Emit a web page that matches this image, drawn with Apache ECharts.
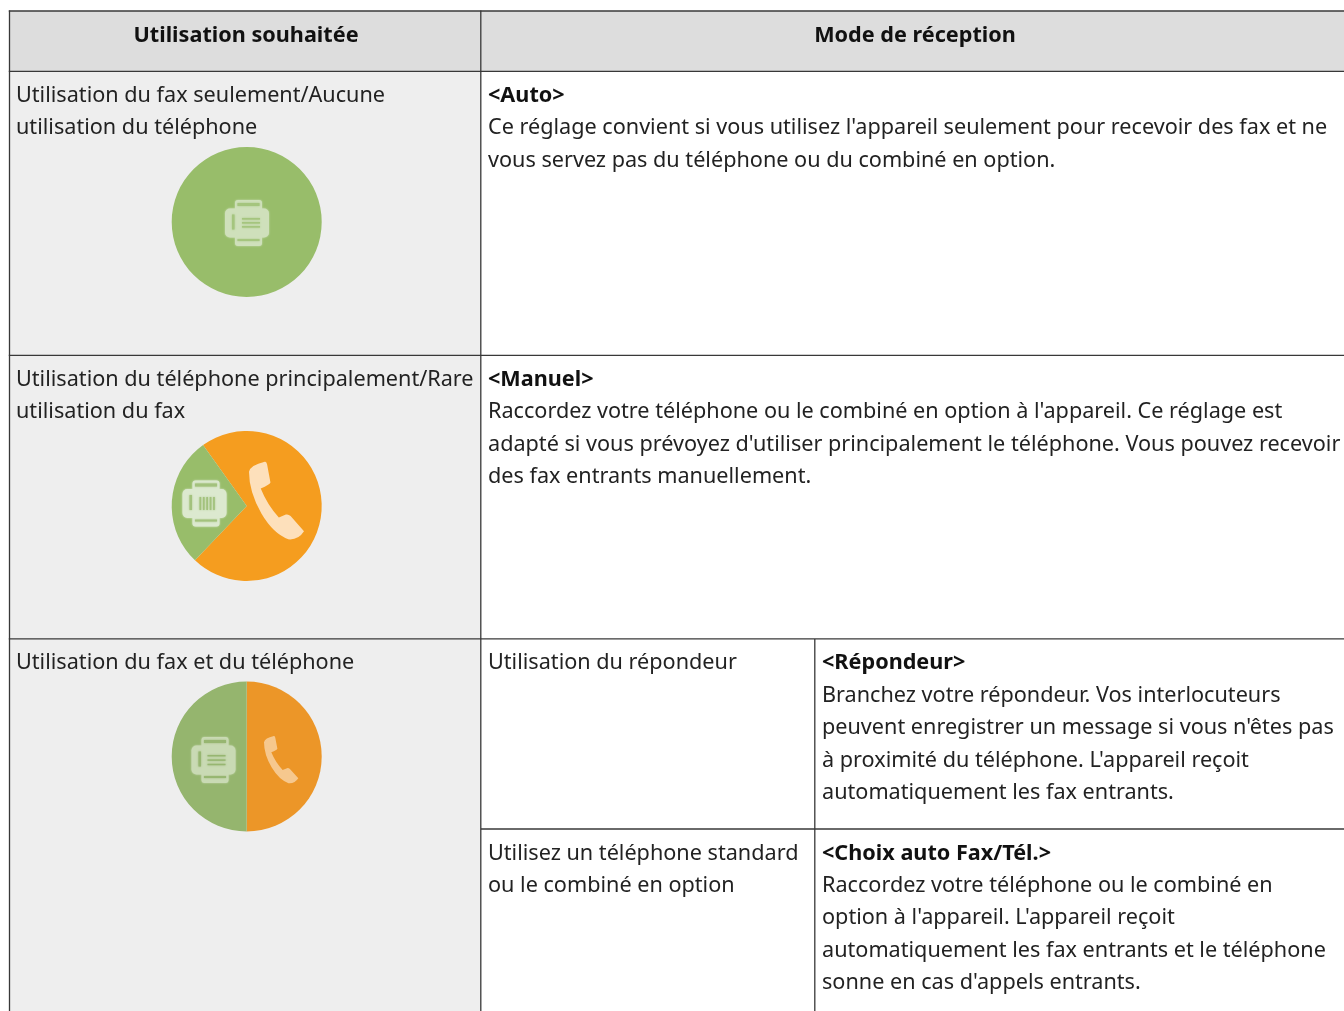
<!DOCTYPE html>
<html><head><meta charset="utf-8">
<style>html,body{margin:0;padding:0;background:#fff}#c{width:1344px;height:1011px}</style>
<script src="https://cdn.jsdelivr.net/npm/echarts@6/dist/echarts.min.js"></script>
</head><body><div id="c"></div>
<script>
const headers = ['Utilisation souhaitée', 'Mode de réception'];
const row1Left = ['Utilisation du fax seulement/Aucune', 'utilisation du téléphone'];
const row2Left = ['Utilisation du téléphone principalement/Rare', 'utilisation du fax'];
const row3Left = ['Utilisation du fax et du téléphone'];
const row1Title = '<Auto>';
const row1Right = ["Ce réglage convient si vous utilisez l'appareil seulement pour recevoir des fax et ne", 'vous servez pas du téléphone ou du combiné en option.'];
const row2Title = '<Manuel>';
const row2Right = ["Raccordez votre téléphone ou le combiné en option à l'appareil. Ce réglage est", "adapté si vous prévoyez d'utiliser principalement le téléphone. Vous pouvez recevoir", 'des fax entrants manuellement.'];
const sub1Left = ['Utilisation du répondeur'];
const sub1Title = '<Répondeur>';
const sub1Right = ['Branchez votre répondeur. Vos interlocuteurs', "peuvent enregistrer un message si vous n'êtes pas", "à proximité du téléphone. L'appareil reçoit", 'automatiquement les fax entrants.'];
const sub2Left = ['Utilisez un téléphone standard', 'ou le combiné en option'];
const sub2Title = '<Choix auto Fax/Tél.>';
const sub2Right = ['Raccordez votre téléphone ou le combiné en', "option à l'appareil. L'appareil reçoit", 'automatiquement les fax entrants et le téléphone', "sonne en cas d'appels entrants."];
const pie1Shares = [['Fax', 100]];
const pie2Shares = [['Téléphone', 72], ['Fax', 28]];
const pie3Shares = [['Téléphone', 50], ['Fax', 50]];

const FONT = '"Noto Sans", sans-serif', SIZE = 21.63, INK = '#222222', RULE = '#383838', DY = 2;
const g = [];
const rect = (x, y, w, h, fill) => g.push({type: 'rect', silent: true, z: 0, shape: {x, y, width: w, height: h}, style: {fill}});
const line = (x1, y1, x2, y2) => g.push({type: 'line', silent: true, z: 1, shape: {x1, y1, x2, y2}, style: {stroke: RULE, lineWidth: 1.3}});
const text = (s, x, y, bold, align) => g.push({type: 'text', silent: true, z: 3, x, y: y + DY, style: {text: s, fill: bold ? '#111111' : INK, font: (bold ? 'bold ' : '') + SIZE + 'px ' + FONT, textAlign: align || 'left', textVerticalAlign: 'middle'}});
const lines = (arr, x, ys) => arr.forEach((s, i) => text(s, x, ys[i]));

rect(9, 11, 1335, 60, '#dddddd');
rect(9, 71, 472, 940, '#eeeeee');
[11, 71.4, 355.4, 638.8].forEach(y => line(8.8, y, 1344, y));
line(481, 829, 1344, 829);
line(9.5, 10.4, 9.5, 1011);
line(480.8, 10.4, 480.8, 1011);
line(814.8, 639, 814.8, 1011);

text(headers[0], 246, 34, true, 'center');
text(headers[1], 915, 34, true, 'center');
lines(row1Left, 16, [94, 126]);
lines(row2Left, 16, [378, 410]);
lines(row3Left, 16, [661]);
text(row1Title, 488, 94, true);
lines(row1Right, 488, [126, 159]);
text(row2Title, 488, 378, true);
lines(row2Right, 488, [410, 443, 475]);
lines(sub1Left, 488, [661]);
text(sub1Title, 822, 661, true);
lines(sub1Right, 822, [694, 726, 759, 791]);
lines(sub2Left, 488, [852, 884]);
text(sub2Title, 822, 852, true);
lines(sub2Right, 822, [884, 916, 949, 981]);

const icoRect = (x, y, w, h, r, fill) => g.push({type: 'rect', silent: true, z: 10, shape: {x, y, width: w, height: h, r}, style: {fill, shadowBlur: 2, shadowColor: fill}});
function fax(cx, cy, light, base, kind) {
  icoRect(cx - 12, cy - 22.5, 27, 46, 3, light);
  icoRect(cx - 9.5, cy - 19.5, 22, 3, 0, base);
  icoRect(cx - 9.5, cy + 16.5, 22, 2, 0, base);
  icoRect(cx - 22, cy - 14, 44, 29, 5, light);
  icoRect(cx - 15, cy - 8, 2.5, 15, 0, base);
  if (kind === 'keys') [0, 1, 2].forEach(i => icoRect(cx - 5, cy - 4.5 + i * 4, 18, 1.6, 0, base));
  if (kind === 'bars') [0, 1, 2, 3, 4].forEach(i => icoRect(cx - 5 + i * 3.4, cy - 6, 1.7, 13, 0, base));
  if (kind === 'rows') [0, 1, 2].forEach(i => icoRect(cx - 6, cy - 4.5 + i * 4.4, 18, 1.4, 0, base));
}
fax(247, 222.5, '#cfe0bb', '#a5c57e', 'keys');
fax(204.5, 503, '#dce9cf', '#a3c27d', 'bars');
fax(213.5, 759.5, '#c9dab4', '#97b671', 'rows');

const PHONE = 'M268 140 Q272 120 315 110 Q320 108 322 118 L332 172 Q330 178 303 190 Q322 238 357 277 L378 268 Q385 266 392 272 L432 318 Q415 345 385 342 Q340 325 305 265 Q268 200 268 140 Z';
const phoneBoxes = [[249, 461.7, 55, 77.7, '#fde0bb'], [264, 736, 34.3, 47.3, '#f6c88e']];

const pie = (shares, y, colors, startAngle) => ({
  type: 'pie', silent: true, animation: false, radius: [0, 75], center: [246.7, y], startAngle, clockwise: true, z: 2,
  label: {show: false}, labelLine: {show: false}, itemStyle: {borderWidth: 0},
  data: shares.map((s, i) => ({name: s[0], value: s[1], itemStyle: {color: colors[i]}}))
});
const chart = echarts.init(document.getElementById('c'), null, {renderer: 'canvas'});
chart.setOption({
  animation: false,
  backgroundColor: '#ffffff',
  graphic: {z: 5, elements: g},
  series: [
    pie(pie1Shares, 222, ['#98bd6a'], 90),
    pie(pie2Shares, 506, ['#f59d1f', '#98bd6a'], 125.6),
    pie(pie3Shares, 756.5, ['#ec9628', '#95b56e'], 90),
    {
      type: 'custom', coordinateSystem: 'none', silent: true, animation: false, z: 8,
      data: phoneBoxes.map((b, i) => [i]),
      renderItem: (params, api) => {
        const b = phoneBoxes[params.dataIndex];
        return {type: 'path', shape: {pathData: PHONE, layout: 'cover', x: b[0], y: b[1], width: b[2], height: b[3]}, style: {fill: b[4]}};
      }
    }
  ]
});
</script></body></html>
